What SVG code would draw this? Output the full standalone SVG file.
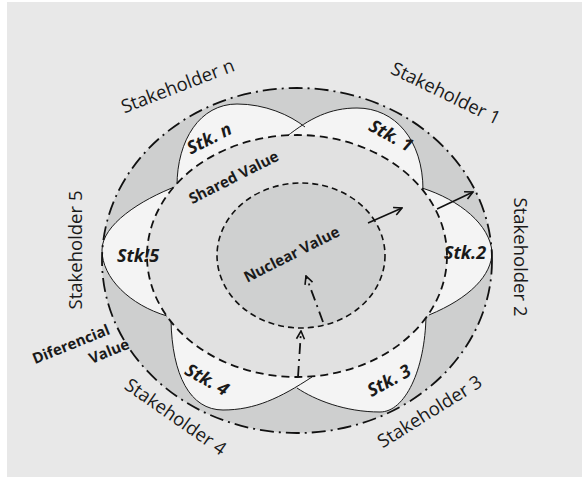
<svg xmlns="http://www.w3.org/2000/svg" width="584" height="480" viewBox="0 0 584 480">
  <defs>
    <style>
      .panel { fill: #e8e8e8; }
      .band { fill: #cecfcf; }
      .petal { fill: #f4f4f4; stroke: none; }
      .edge { fill: none; stroke: #1a1a1a; stroke-width: 1; }
      .shared { fill: #e1e1e1; stroke: #111; stroke-width: 1.8; stroke-dasharray: 8 5; }
      .nuclear { fill: #cfd0d0; stroke: #111; stroke-width: 1.6; stroke-dasharray: 6 4; }
      .rim { fill: none; stroke: #111; stroke-width: 1.8; stroke-dasharray: 14 5 2 5; }
      .arrow { fill: none; stroke: #111; stroke-width: 1.6; marker-end: url(#open); }
      .dashdot { stroke-dasharray: 11 5 2 5; stroke-width: 1.8; }
      .stake { font-family: "Open Sans", "DejaVu Sans", sans-serif; font-size: 18.5px; fill: #1a1a1a; text-anchor: middle; }
      .stk { font-family: "Open Sans", "DejaVu Sans", sans-serif; font-size: 18px; font-weight: bold; font-style: italic; fill: #1a1a1a; text-anchor: middle; }
      .value { font-family: "Open Sans", "DejaVu Sans", sans-serif; font-size: 15px; font-weight: bold; fill: #1a1a1a; text-anchor: middle; }
    </style>
    <marker id="open" viewBox="0 0 10 10" refX="9" refY="5" markerWidth="10" markerHeight="10" markerUnits="userSpaceOnUse" orient="auto">
      <path d="M1,1 L9,5 L1,9" fill="none" stroke="#111" stroke-width="1.6" stroke-dasharray="none"/>
    </marker>
  </defs>

  <rect class="panel" x="7" y="2" width="575" height="475"/>

  <!-- differential value band -->
  <g id="differential">
    <ellipse class="band" cx="297" cy="260.5" rx="195" ry="172.5"/>
  </g>

  <!-- stakeholder petals: fills first, then outlines -->
  <g id="petals">
    <path class="petal" d="M177,186 C177,140 200,104 237,104 C265,104 290,115 305,127 L297,256 Z"/>
    <path class="petal" d="M286,137 C310,118 330,108 357,108 C395,108 423,140 423,190 L297,256 Z"/>
    <path class="petal" d="M422,188 C460,200 490,225 492,252 C492,275 470,298 429,315 L297,256 Z"/>
    <path class="petal" d="M426,316 C425,370 405,412 380,412 C345,412 315,400 297,388 L297,256 Z"/>
    <path class="petal" d="M171,320 C172,375 190,410 223,410 C255,410 280,398 312,377 L297,256 Z"/>
    <path class="petal" d="M177,186 C140,200 102,225 102,250 C102,278 130,305 167,316 L297,256 Z"/>
    <path class="edge" d="M177,186 C177,140 200,104 237,104 C265,104 290,115 305,127"/>
    <path class="edge" d="M286,137 C310,118 330,108 357,108 C395,108 423,140 423,190"/>
    <path class="edge" d="M422,188 C460,200 490,225 492,252 C492,275 470,298 429,315"/>
    <path class="edge" d="M426,316 C425,370 405,412 380,412 C345,412 315,400 297,388"/>
    <path class="edge" d="M171,320 C172,375 190,410 223,410 C255,410 280,398 312,377"/>
    <path class="edge" d="M177,186 C140,200 102,225 102,250 C102,278 130,305 167,316"/>
  </g>

  <g id="shared-value">
    <ellipse class="shared" cx="297" cy="256" rx="150" ry="121"/>
  </g>

  <g id="nuclear-value">
    <ellipse class="nuclear" cx="301" cy="255.5" rx="84" ry="72.5"/>
  </g>

  <g id="rim">
    <ellipse class="rim" cx="297" cy="260.5" rx="195" ry="172.5"/>
  </g>

  <!-- connectors -->
  <g id="connectors">
    <line class="arrow" x1="368" y1="223" x2="402" y2="208"/>
    <line class="arrow" x1="437" y1="209" x2="473" y2="192"/>
    <line class="arrow dashdot" x1="298" y1="377" x2="301" y2="331"/>
    <line class="arrow dashdot" x1="323" y1="322" x2="306" y2="276"/>
  </g>

  <!-- labels -->
  <g id="stakeholder-labels">
    <text class="stake" transform="translate(180,92) rotate(-21)">Stakeholder n</text>
    <text class="stake" transform="translate(443,99) rotate(26)">Stakeholder 1</text>
    <text class="stake" transform="translate(514,257) rotate(90)">Stakeholder 2</text>
    <text class="stake" transform="translate(433,417) rotate(-32)">Stakeholder 3</text>
    <text class="stake" transform="translate(172,422) rotate(35)">Stakeholder 4</text>
    <text class="stake" transform="translate(82,250) rotate(-90)">Stakeholder 5</text>
  </g>

  <g id="stk-labels">
    <text class="stk" transform="translate(212,144) rotate(-27)">Stk. n</text>
    <text class="stk" transform="translate(388,141) rotate(29)">Stk. 1</text>
    <text class="stk" transform="translate(465,259)">Stk.2</text>
    <text class="stk" transform="translate(392,386) rotate(-29)">Stk. 3</text>
    <text class="stk" transform="translate(204,385) rotate(29)">Stk. 4</text>
    <text class="stk" transform="translate(138,262)">Stk!5</text>
  </g>

  <g id="value-labels">
    <text class="value" transform="translate(236,182) rotate(-27)">Shared Value</text>
    <text class="value" transform="translate(294,259) rotate(-27)">Nuclear Value</text>
    <text class="value" transform="translate(73,349) rotate(-22)">Diferencial</text>
    <text class="value" transform="translate(111,356) rotate(-22)">Value</text>
  </g>
</svg>
